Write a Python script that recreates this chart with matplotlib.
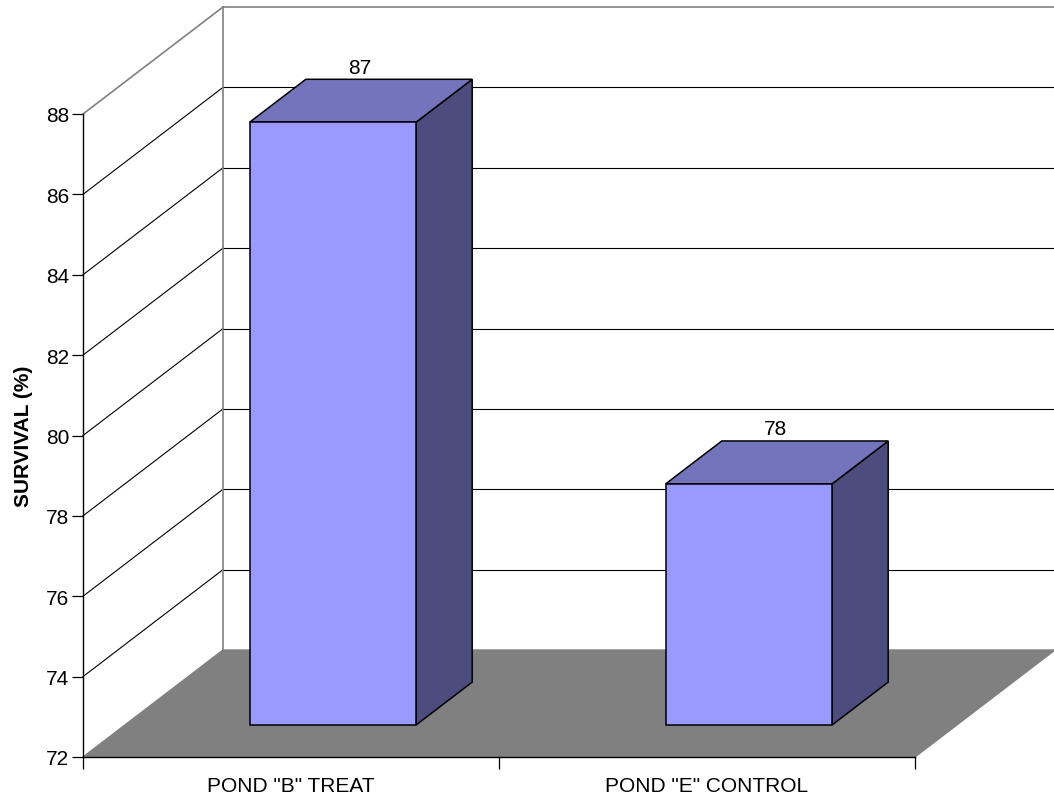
import numpy as np
import matplotlib
matplotlib.use("Agg")
import matplotlib.pyplot as plt
from matplotlib.patches import Polygon

plt.rcParams['font.family'] = ['Liberation Sans', 'DejaVu Sans']

# data
categories = ['POND "B" TREAT', 'POND "E" CONTROL']
survival = [87, 78]
y_ticks = [72, 74, 76, 78, 80, 82, 84, 86, 88]
y_min, y_max = 72, 88

# 3d look: how far the back wall sits, in axis units
DX = 140 / 416          # category units
DY = 107 / (643 / 16)   # value units
bar_w = 0.4
z_front, z_back = 0.3, 0.7

FRONT = '#9999FF'
TOP = '#7474BD'
SIDE = '#4C4C7E'
FLOOR = '#808080'
WALL_EDGE = '#808080'
FS = 15


def proj(x, v, z):
    return (x + z * DX, v + z * DY)


fig = plt.figure(figsize=(10.54, 8.04), dpi=100)
ax = fig.add_axes([83 / 1054, 1 - 758 / 804, 832 / 1054, 643 / 804])
ax.set_xlim(0, len(categories))
ax.set_ylim(y_min, y_max)
ax.patch.set_visible(False)

n = len(categories)

# floor
floor = [proj(0, y_min, 0), proj(0, y_min, 1), proj(n, y_min, 1), proj(n, y_min, 0)]
ax.add_patch(Polygon(floor, closed=True, facecolor=FLOOR, edgecolor=WALL_EDGE,
                     lw=1.0, clip_on=False, zorder=1))

# gridlines on left wall and back wall
for v in y_ticks[1:]:
    col = WALL_EDGE if v == y_max else 'black'
    lw = 1.2 if v == y_max else 0.8
    p0, p1 = proj(0, v, 0), proj(0, v, 1)
    ax.plot([p0[0], p1[0]], [p0[1], p1[1]], color=col, lw=lw, clip_on=False, zorder=2)
    q1 = proj(n, v, 1)
    ax.plot([p1[0], q1[0]], [p1[1], q1[1]], color=col, lw=lw, clip_on=False, zorder=2)
b0, b1 = proj(0, y_min, 1), proj(0, y_max, 1)
ax.plot([b0[0], b1[0]], [b0[1], b1[1]], color=WALL_EDGE, lw=1.2, clip_on=False, zorder=2)

# bars
for i, val in enumerate(survival):
    c = i + 0.5
    x0, x1 = c - bar_w / 2, c + bar_w / 2
    side = [proj(x1, y_min, z_front), proj(x1, y_min, z_back),
            proj(x1, val, z_back), proj(x1, val, z_front)]
    top = [proj(x0, val, z_front), proj(x1, val, z_front),
           proj(x1, val, z_back), proj(x0, val, z_back)]
    front = [proj(x0, y_min, z_front), proj(x1, y_min, z_front),
             proj(x1, val, z_front), proj(x0, val, z_front)]
    for pts, fc in [(side, SIDE), (top, TOP), (front, FRONT)]:
        ax.add_patch(Polygon(pts, closed=True, facecolor=fc, edgecolor='black',
                             lw=1.1, clip_on=False, zorder=3, joinstyle='miter'))
    lx, _ = proj(c, val, 0.5)
    _, ly = proj(c, val, z_back)
    ax.annotate(str(val), (lx, ly), xytext=(-1, 2), textcoords='offset points',
                ha='center', va='bottom', fontsize=FS, annotation_clip=False, zorder=4)

# axes, ticks
for s in ['top', 'right']:
    ax.spines[s].set_visible(False)
for s in ['left', 'bottom']:
    ax.spines[s].set_color('black')
    ax.spines[s].set_linewidth(1.0)
    ax.spines[s].set_zorder(5)

ax.set_yticks(y_ticks)
ax.set_yticklabels([str(t) for t in y_ticks])
ax.tick_params(axis='y', direction='out', length=8, width=0.9, pad=2, labelsize=FS)

ax.set_xticks(range(n + 1))
ax.set_xticklabels([''] * (n + 1))
ax.set_xticks([i + 0.5 for i in range(n)], minor=True)
ax.set_xticklabels(categories, minor=True)
ax.tick_params(axis='x', which='major', direction='out', length=8.5, width=0.9)
ax.tick_params(axis='x', which='minor', length=0, pad=14, labelsize=FS)

ax.set_ylabel('SURVIVAL (%)', fontsize=FS, fontweight='bold', labelpad=9)

fig.savefig('out.png', dpi=100)
